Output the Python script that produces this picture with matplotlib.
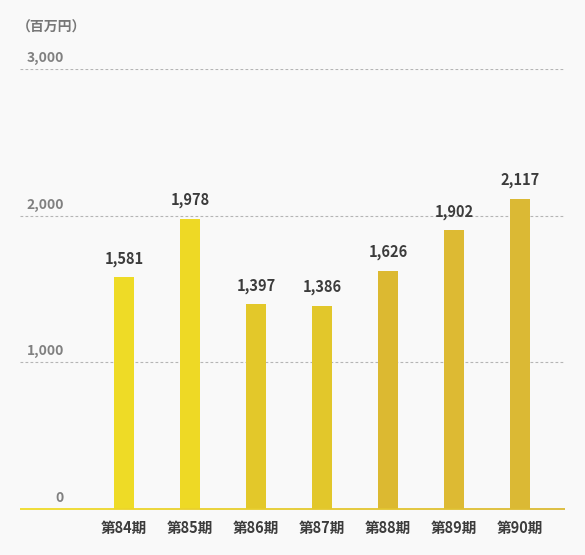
import matplotlib
matplotlib.use('Agg')
import matplotlib.pyplot as plt
from matplotlib.collections import LineCollection
from matplotlib.colors import LinearSegmentedColormap
import matplotlib.transforms as mtransforms
import numpy as np

plt.rcParams['font.family'] = ['Noto Sans CJK JP', 'DejaVu Sans']

# data
periods = ["第84期", "第85期", "第86期", "第87期", "第88期", "第89期", "第90期"]
values = [1581, 1978, 1397, 1386, 1626, 1902, 2117]
bar_colors = ["#eedb26", "#eed925", "#e3c82a", "#e2c72b", "#dcb931", "#ddba33", "#dbb934"]
yticks = [0, 1000, 2000, 3000]
unit_label = "（百万円）"

bg = "#f9f9f9"
fig = plt.figure(figsize=(5.85, 5.55), dpi=100, facecolor=bg)
ax = fig.add_axes([20 / 585, 46 / 555, 545 / 585, 440 / 555])
ax.set_facecolor(bg)

x = np.arange(len(periods))
ax.bar(x, values, width=0.303, color=bar_colors, edgecolor="none", zorder=3)

ax.set_ylim(0, 3000)
ax.set_xlim(-104 / 66, (545 - 104) / 66)

# dashed gridlines
for t in yticks[1:]:
    ax.axhline(t, color="#b5b5b5", linewidth=0.8, linestyle=(0, (2.5, 2)), zorder=1)

# gradient baseline
cmap = LinearSegmentedColormap.from_list("base", ["#f0dc28", "#dbb934"])
xs = np.linspace(0, 1, 200)
segs = [[(xs[i], 0), (xs[i + 1], 0)] for i in range(len(xs) - 1)]
lc = LineCollection(segs, colors=cmap(xs[:-1]), linewidths=1.3,
                    transform=ax.get_yaxis_transform(), zorder=4, clip_on=False)
ax.add_collection(lc)

# y labels above the gridlines
trans = mtransforms.blended_transform_factory(ax.transAxes, ax.transData)
for t in yticks:
    ax.annotate(f"{t:,}", xy=(44 / 545, t), xycoords=trans,
                xytext=(0, 5), textcoords="offset points",
                ha="right", va="baseline", fontsize=10, fontweight="bold",
                color="#808080")

# value labels
for xi, v in zip(x, values):
    ax.annotate(f"{v:,}", xy=(xi, v), xytext=(0, 10), textcoords="offset points",
                ha="center", va="baseline", fontsize=10.5, fontweight="bold",
                color="#3c3c3c", zorder=5)

ax.set_xticks(x)
ax.set_xticklabels(periods, fontsize=10.5, fontweight="bold", color="#3c3c3c")
ax.tick_params(axis="x", length=0, pad=8)
ax.set_yticks([])
for s in ax.spines.values():
    s.set_visible(False)

fig.text(17 / 585, 1 - 28 / 555, unit_label, ha="left", va="center",
         fontsize=10, fontweight="bold", color="#777777")

fig.savefig("out.png", dpi=100, facecolor=bg)
